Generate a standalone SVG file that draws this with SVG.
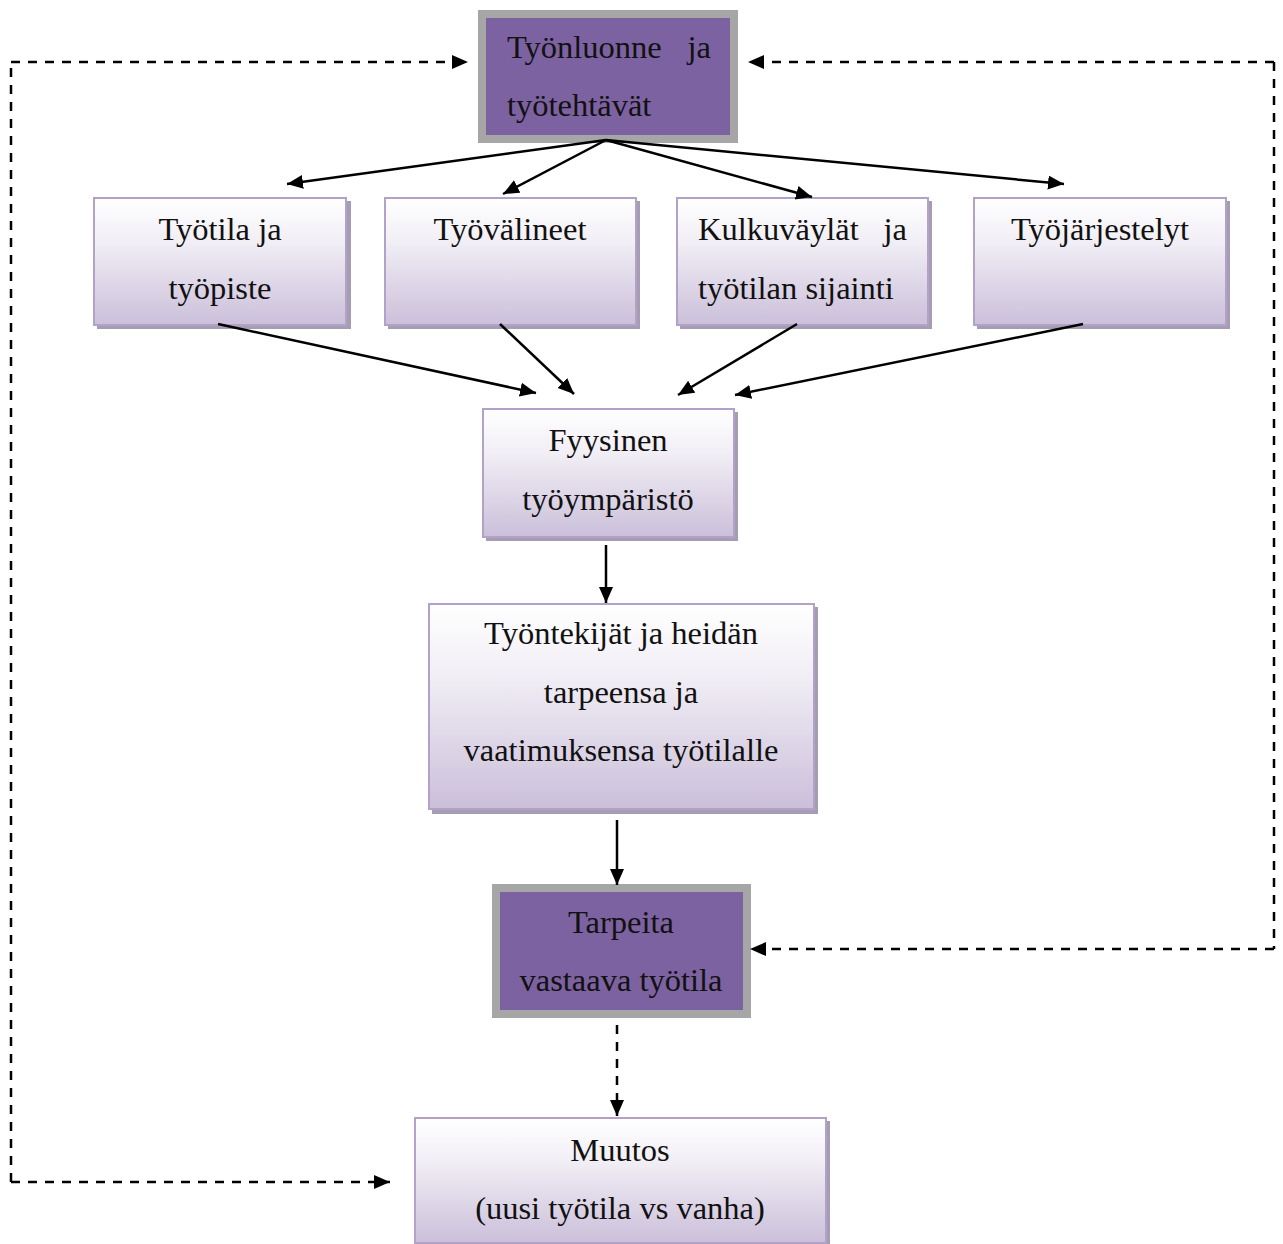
<svg xmlns="http://www.w3.org/2000/svg" width="1283" height="1244" viewBox="0 0 1283 1244">
<defs>
<linearGradient id="g" x1="0" y1="0" x2="0" y2="1">
<stop offset="0" stop-color="#FFFFFF"/>
<stop offset="0.35" stop-color="#F1EEF5"/>
<stop offset="1" stop-color="#CBBFDA"/>
</linearGradient>
<marker id="ah" markerUnits="userSpaceOnUse" markerWidth="18" markerHeight="16" refX="16" refY="7" orient="auto">
<path d="M0,0 L16,7 L0,14 Z" fill="#000"/>
</marker>
</defs>
<style>
text{font-family:"Liberation Serif","Times New Roman",serif;font-size:32.5px;fill:#111;}
.c{text-anchor:middle;}
.box{fill:url(#g);stroke:#B3A2C7;stroke-width:2;}
.sh{fill:#A69CB3;}
.dark{fill:#7D62A1;stroke:#A6A6A6;stroke-width:8;}
.ln{stroke:#000;stroke-width:2.5;fill:none;marker-end:url(#ah);}
.ds{stroke:#000;stroke-width:2.5;fill:none;stroke-dasharray:9,8;}
.dsa{stroke:#000;stroke-width:2.5;fill:none;stroke-dasharray:9,8;marker-end:url(#ah);}
</style>
<rect width="1283" height="1244" fill="#fff"/>
<g id="n-tyonluonne">
<rect class="dark" x="482" y="14" width="252" height="125"/>
<text x="507" y="58">Työnluonne</text>
<text x="711" y="58" text-anchor="end">ja</text>
<text x="507" y="116">työtehtävät</text>
</g>
<g id="n-tyotila">
<rect class="sh" x="97" y="201" width="254" height="128"/>
<rect class="box" x="94" y="198" width="252" height="127"/>
<text class="c" x="220" y="240">Työtila ja</text>
<text class="c" x="220" y="299">työpiste</text>
</g>
<g id="n-tyovalineet">
<rect class="sh" x="388" y="201" width="252" height="128"/>
<rect class="box" x="385" y="198" width="251" height="127"/>
<text class="c" x="510" y="240">Työvälineet</text>
</g>
<g id="n-kulku">
<rect class="sh" x="680" y="201" width="252" height="128"/>
<rect class="box" x="677" y="198" width="251" height="127"/>
<text x="698" y="240">Kulkuväylät</text>
<text x="907" y="240" text-anchor="end">ja</text>
<text x="698" y="299">työtilan sijainti</text>
</g>
<g id="n-jarjestelyt">
<rect class="sh" x="977" y="201" width="253" height="128"/>
<rect class="box" x="974" y="198" width="252" height="127"/>
<text class="c" x="1100" y="240">Työjärjestelyt</text>
</g>
<g id="n-fyysinen">
<rect class="sh" x="486" y="412" width="252" height="129"/>
<rect class="box" x="483" y="409" width="251" height="128"/>
<text class="c" x="608" y="451">Fyysinen</text>
<text class="c" x="608" y="510">työympäristö</text>
</g>
<g id="n-tyontekijat">
<rect class="sh" x="432" y="607" width="386" height="207"/>
<rect class="box" x="429" y="604" width="385" height="205"/>
<text class="c" x="621" y="644">Työntekijät ja heidän</text>
<text class="c" x="621" y="703">tarpeensa ja</text>
<text class="c" x="621" y="761">vaatimuksensa työtilalle</text>
</g>
<g id="n-tarpeita">
<rect class="dark" x="496" y="888" width="251" height="126"/>
<text class="c" x="621" y="933">Tarpeita</text>
<text class="c" x="621" y="991">vastaava työtila</text>
</g>
<g id="n-muutos">
<rect class="sh" x="418" y="1121" width="412" height="126"/>
<rect class="box" x="415" y="1118" width="411" height="125"/>
<text class="c" x="620" y="1161">Muutos</text>
<text class="c" x="620" y="1219">(uusi työtila vs vanha)</text>
</g>
<g id="connectors">
<line class="ln" x1="606" y1="140" x2="287" y2="184"/>
<line class="ln" x1="606" y1="140" x2="503" y2="194"/>
<line class="ln" x1="606" y1="140" x2="812" y2="197"/>
<line class="ln" x1="606" y1="140" x2="1064" y2="184"/>
<line class="ln" x1="218" y1="324" x2="536" y2="393"/>
<line class="ln" x1="500" y1="324" x2="574" y2="394"/>
<line class="ln" x1="797" y1="324" x2="678" y2="395"/>
<line class="ln" x1="1083" y1="324" x2="735" y2="395"/>
<line class="ln" x1="606" y1="545" x2="606" y2="603"/>
<line class="ln" x1="617" y1="820" x2="617" y2="885"/>
<line class="dsa" x1="617" y1="1025" x2="617" y2="1116"/>
<polyline class="ds" points="11,1182 11,62"/>
<line class="dsa" x1="11" y1="62" x2="468" y2="62"/>
<line class="dsa" x1="11" y1="1182" x2="390" y2="1182"/>
<polyline class="ds" points="1274,62 1274,949"/>
<line class="dsa" x1="1274" y1="62" x2="748" y2="62"/>
<line class="dsa" x1="1274" y1="949" x2="750" y2="949"/>
</g>
</svg>
